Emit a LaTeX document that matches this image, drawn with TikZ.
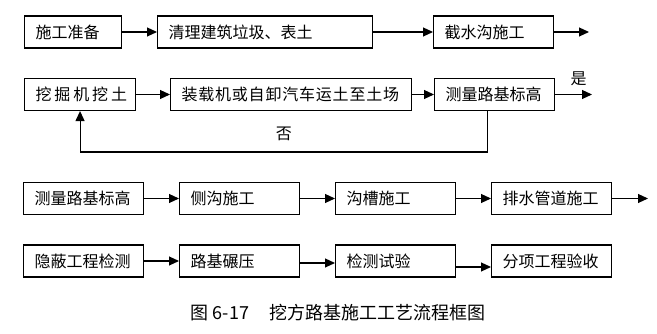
\documentclass[tikz,border=0pt]{standalone}
\usepackage{fontspec}
\setmainfont{Noto Sans CJK SC}
\newfontfamily\espaceA[LetterSpace=18]{Noto Sans CJK SC}
\newfontfamily\espaceB[LetterSpace=5]{Noto Sans CJK SC}
\usetikzlibrary{arrows.meta}

\begin{document}
\begin{tikzpicture}[x=1pt,y=-1pt]
	% Styles (MODIFIABLES)
	\tikzstyle{fleche}=[-{Triangle[length=10pt,width=9pt]},line width=1.1pt]
	\tikzstyle{boite}=[draw,line width=1.1pt,anchor=west,minimum height=32pt,inner xsep=11pt,align=left,font=\fontsize{16}{18}\selectfont]
	\tikzstyle{commentaire}=[font=\fontsize{16}{18}\selectfont]
	\tikzstyle{legende}=[font=\fontsize{18}{20}\selectfont]
	% Dimensions (MODIFIABLES)
	\def\LigneA{32}
	\def\LigneB{94.5}
	\def\LigneC{198.5}
	\def\LigneD{261}
	\def\Largeur{98}
	% Dimensions calculees (NON MODIFIABLES)
	\def\ColonneA{23}
	\def\ColonneB{(\ColonneA+156)}
	\def\ColonneC{(\ColonneA+2*156)}
	\def\ColonneD{(\ColonneA+3*156)}
	\useasboundingbox (0,0) rectangle (657,334);
	% Noeuds (MODIFIABLES)
	\node[boite,text width=75] (Aa) at (24,\LigneA) {施工准备};
	\node[boite,text width=193] (Ab) at (157,\LigneA) {清理建筑垃圾、表土};
	\node[boite,text width=\Largeur] (Ac) at (433,\LigneA) {截水沟施工};
	\coordinate (Asortie) at (589,\LigneA);
	%
	\node[boite,text width=89,font=\espaceA\fontsize{16}{18}\selectfont] (Ba) at (24,\LigneB) {挖掘机挖土};
	\node[boite,text width=219,font=\espaceB\fontsize{16}{18}\selectfont] (Bb) at (170,\LigneB) {装载机或自卸汽车运土至土场};
	\node[boite,text width=\Largeur] (Bc) at (434,\LigneB) {测量路基标高};
	\coordinate (Bsortie) at (592,\LigneB);
	%
	\node[boite,text width=\Largeur] (Ca) at ({\ColonneA},\LigneC) {测量路基标高};
	\node[boite,text width=\Largeur] (Cb) at ({\ColonneB},\LigneC) {侧沟施工};
	\node[boite,text width=\Largeur] (Cc) at ({\ColonneC},\LigneC) {沟槽施工};
	\node[boite,text width=\Largeur] (Cd) at ({\ColonneD},\LigneC) {排水管道施工};
	\coordinate (Csortie) at (648,\LigneC);
	%
	\node[boite,text width=\Largeur] (Da) at ({\ColonneA},\LigneD) {隐蔽工程检测};
	\node[boite,text width=\Largeur] (Db) at ({\ColonneB},\LigneD) {路基碾压};
	\node[boite,text width=\Largeur] (Dc) at ({\ColonneC},\LigneD) {检测试验};
	\node[boite,text width=\Largeur] (Dd) at ({\ColonneD},\LigneD) {分项工程验收};
	%
	\node[legende] (titre) at (338,313) {图 6-17\hspace{1.1em}挖方路基施工工艺流程框图};
	% Arcs (MODIFIABLES : Styles)
	\draw[fleche] (Aa.east)--(Ab.west);
	\draw[fleche] (Ab.east)--(Ac.west);
	\draw[fleche] (Ac.east)--(Asortie);
	\draw[fleche] (Ba.east)--(Bb.west);
	\draw[fleche] (Bb.east)--(Bc.west);
	\draw[fleche] (Bc.east)--(Bsortie) node[midway, above=5pt, xshift=5pt, commentaire]{是};
	\draw[fleche] ([xshift=-7pt]Bc.south) -- ++(0,41) -| (Ba.south) node[pos=0.25, above=7pt, commentaire]{否};
	\draw[fleche] (Ca.east)--(Cb.west);
	\draw[fleche] (Cb.east)--(Cc.west);
	\draw[fleche] (Cc.east)--(Cd.west);
	\draw[fleche] (Cd.east)--(Csortie);
	\draw[fleche] (Da.east)--(Db.west);
	\draw[fleche] ([yshift=-2pt]Db.east)--([yshift=-2pt]Dc.west);
	\draw[fleche] ([yshift=-6pt]Dc.east)--([yshift=-6pt]Dd.west);
\end{tikzpicture}
\end{document}
